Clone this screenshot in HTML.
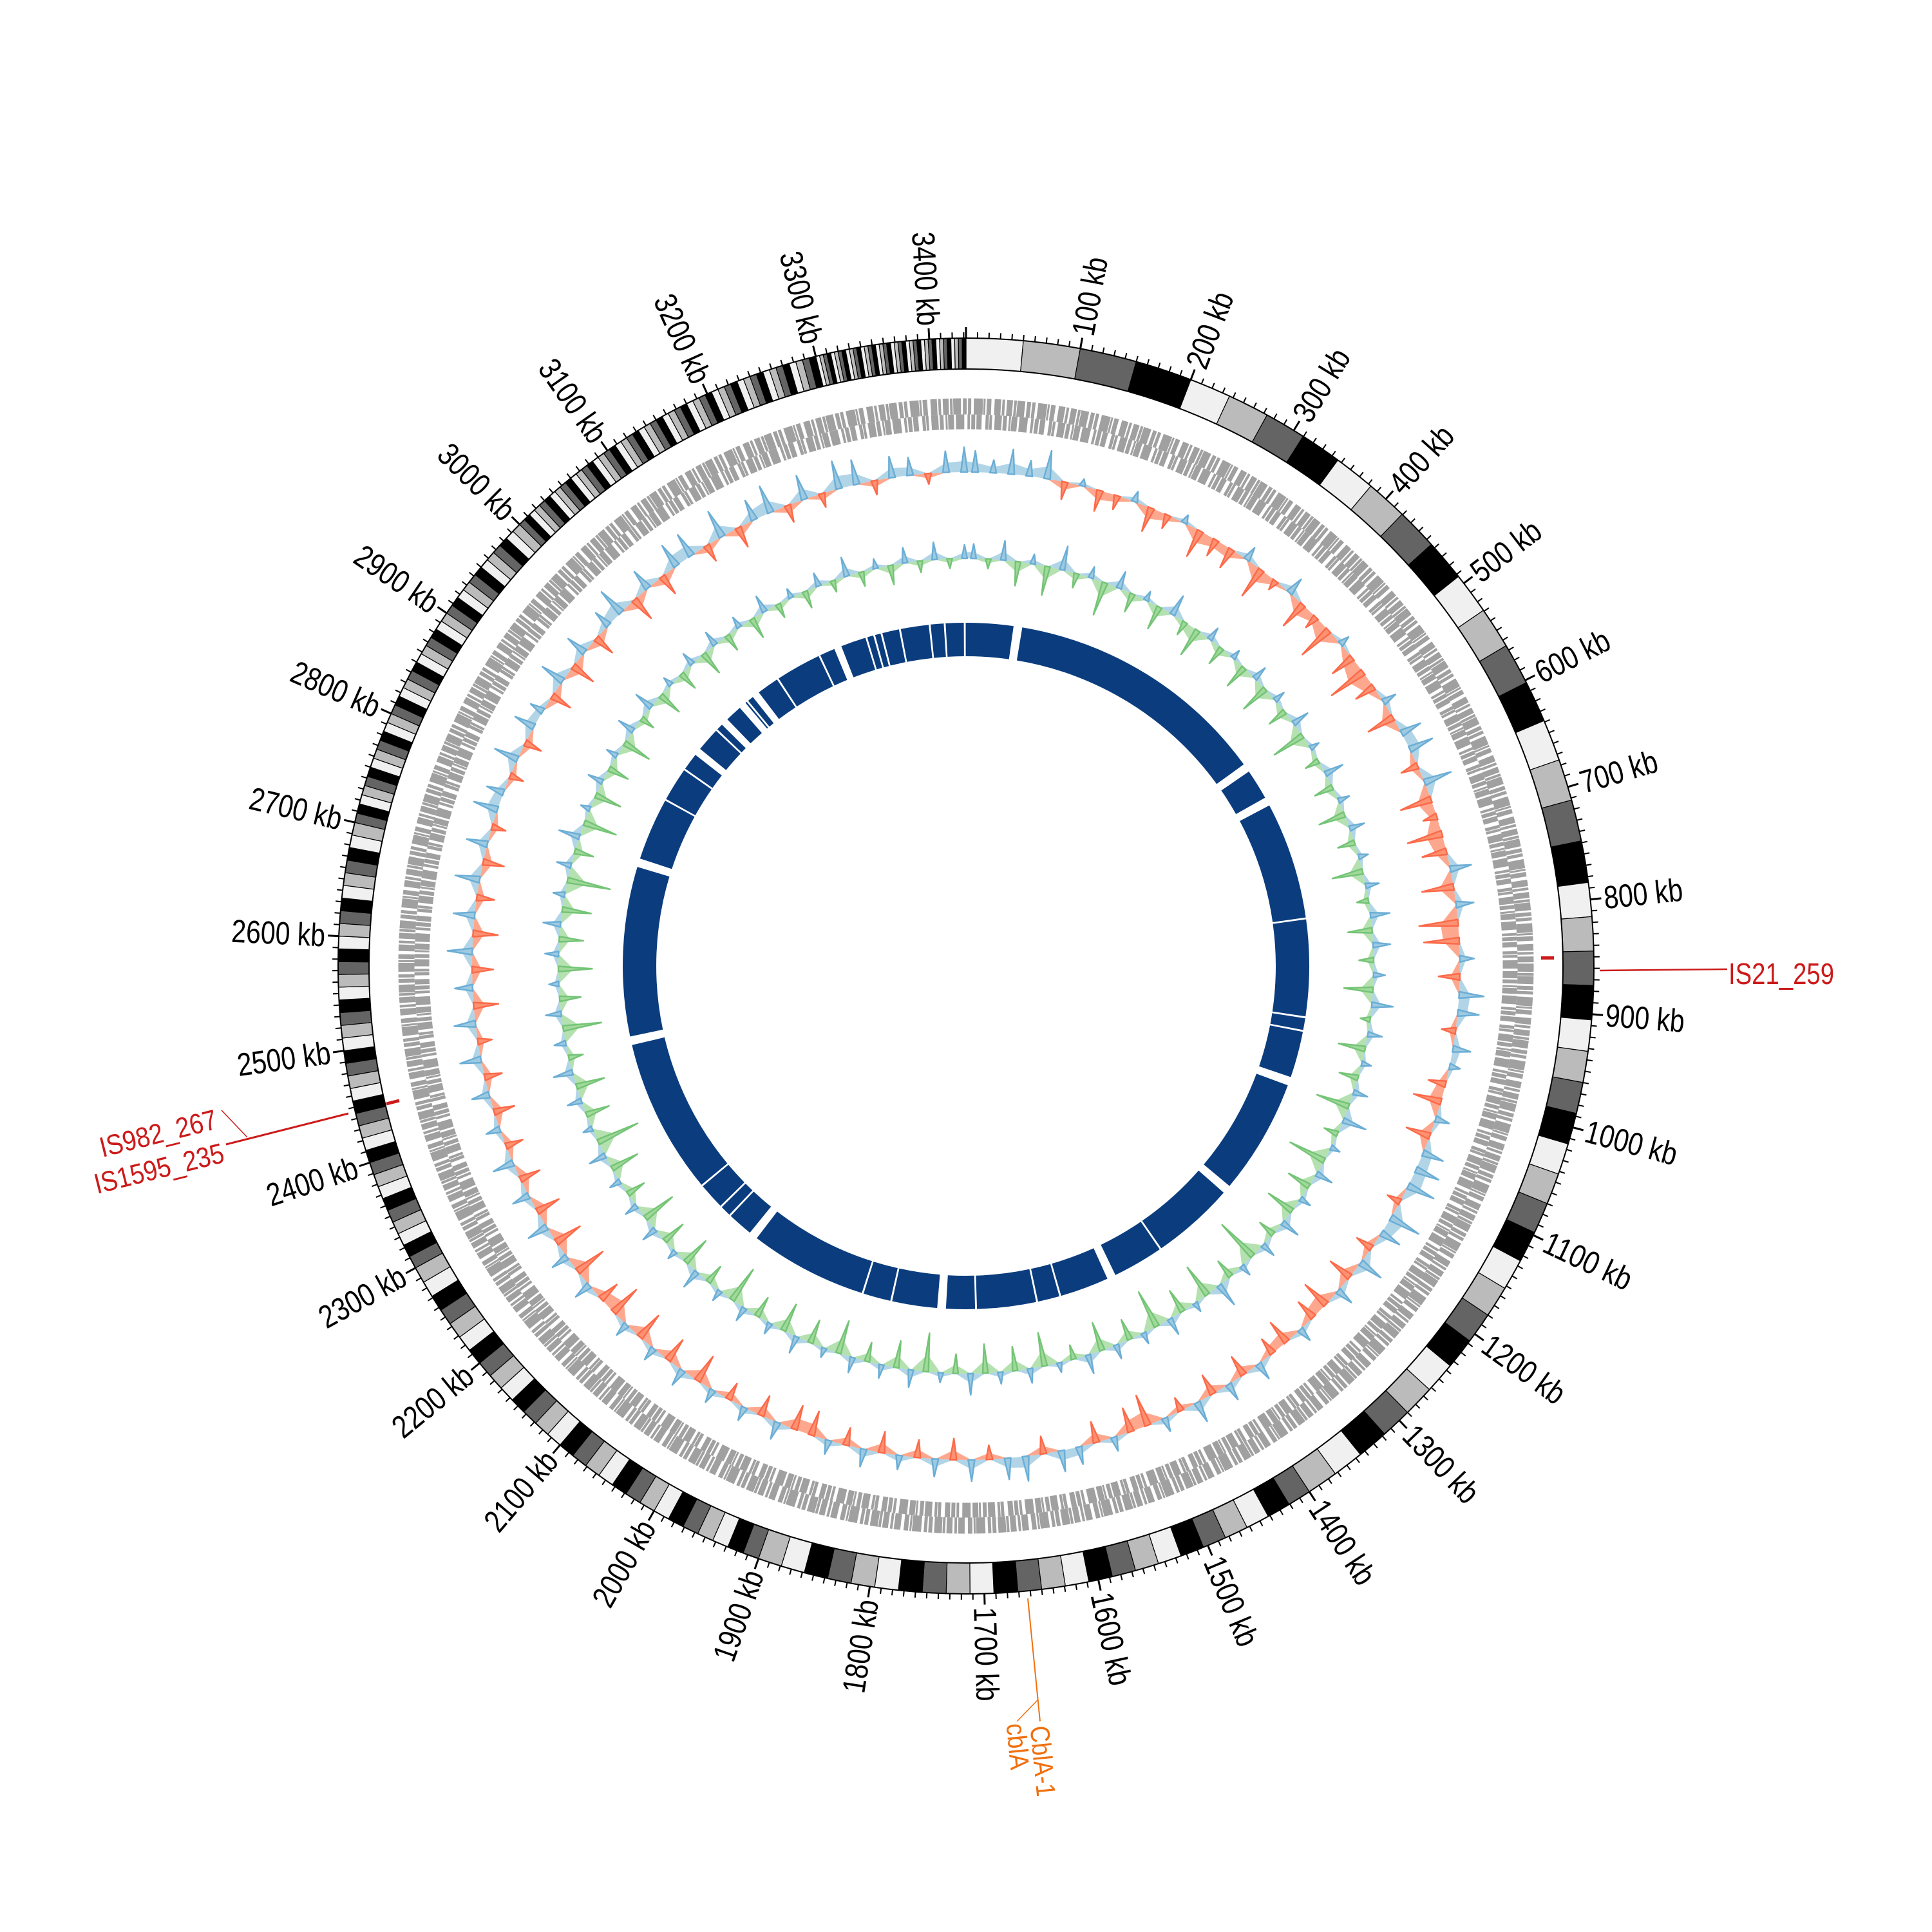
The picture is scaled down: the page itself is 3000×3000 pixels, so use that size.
<!DOCTYPE html>
<html><head><meta charset="utf-8"><title>Circular genome map</title>
<style>html,body{margin:0;padding:0;background:#fff}svg{display:block}</style></head>
<body>
<svg id="chart" xmlns="http://www.w3.org/2000/svg" width="3000" height="3000" viewBox="0 0 3000 3000">
<rect width="3000" height="3000" fill="#fff"/>
<g id="bands"></g>
<g id="ticks"></g>
<g id="ticklabels" font-family="Liberation Sans, sans-serif" font-size="50" fill="#000"></g>
<g id="genes"></g>
<g id="skew"></g>
<g id="gc"></g>
<g id="contigs"></g>
<g id="annot" font-family="Liberation Sans, sans-serif">
  <line x1="2484" y1="1507" x2="2682" y2="1505" stroke="#cc1a1a" stroke-width="2.5"/>
  <rect x="2393" y="1485" width="20" height="5" fill="#cc1a1a"/>
  <text x="2684" y="1528" font-size="46" fill="#cc1a1a" textLength="164" lengthAdjust="spacingAndGlyphs">IS21_259</text>
  <line x1="541" y1="1729" x2="351" y2="1777" stroke="#cc1a1a" stroke-width="3"/>
  <line x1="344" y1="1724" x2="384" y2="1766" stroke="#cc1a1a" stroke-width="1.5"/>
  <line x1="600" y1="1714" x2="620" y2="1709" stroke="#cc1a1a" stroke-width="5"/>
  <text transform="translate(336,1738) rotate(-14)" text-anchor="end" dominant-baseline="central" font-size="44" fill="#cc1a1a" textLength="186" lengthAdjust="spacingAndGlyphs">IS982_267</text>
  <text transform="translate(347,1790) rotate(-14)" text-anchor="end" dominant-baseline="central" font-size="44" fill="#cc1a1a" textLength="206" lengthAdjust="spacingAndGlyphs">IS1595_235</text>
  <line x1="1596" y1="2482" x2="1615" y2="2673" stroke="#f0700f" stroke-width="2"/>
  <line x1="1611" y1="2640" x2="1579" y2="2673" stroke="#f0700f" stroke-width="1.5"/>
  <text transform="translate(1614,2680) rotate(84.4)" dominant-baseline="central" font-size="42" fill="#f0700f" textLength="110" lengthAdjust="spacingAndGlyphs">CblA-1</text>
  <text transform="translate(1577,2676) rotate(84.4)" dominant-baseline="central" font-size="42" fill="#f0700f" textLength="72" lengthAdjust="spacingAndGlyphs">cblA</text>
</g>
</svg>
<script>
// ---- data ----
var genomeKb = 3432;
var bandRegions = [[0,200,4],[200,785,16],[785,905,4],[905,1400,18],[1400,1900,24],[1900,2300,28],[2300,2700,36],[2700,3000,36],[3000,3300,50],[3300,3432,40]];
var bandColors = ["#f0f0f0","#bbbbbb","#646464","#000000"];
var tickLabels = [100,200,300,400,500,600,700,800,900,1000,1100,1200,1300,1400,1500,1600,1700,1800,1900,2000,2100,2200,2300,2400,2500,2600,2700,2800,2900,3000,3100,3200,3300,3400];
var binKb = 20;
var skewValues = [30,18,35,22,40,-25,10,-30,-20,15,-35,-20,12,-40,-25,-30,20,-45,-15,25,-40,-20,-50,15,-35,-55,-30,20,-40,30,35,-25,40,-45,-20,-50,-35,30,-45,25,-55,-50,20,-30,35,30,-20,25,15,-25,-40,20,-35,30,35,40,-20,45,30,-25,35,-35,25,-40,-30,20,-35,-25,25,-30,25,-30,30,-20,20,-45,-35,20,-30,25,30,-25,35,30,-20,30,-30,25,-25,20,-30,25,-25,20,-35,-35,25,-30,20,-25,20,-40,25,-35,20,-40,20,-45,-30,25,-45,25,-40,30,-35,25,-30,30,-25,20,-30,25,-25,30,-20,30,-35,25,-30,35,-35,30,-25,35,-30,30,-20,35,25,-20,35,-25,30,20,-30,35,-35,30,-30,25,40,-35,30,-30,35,35,-25,40,-30,30,40,-25,35,-20,40,35,-20,30,25,-15,30,35];
var gcValues = [15,-10,20,-25,10,-30,25,-15,12,-35,18,-20,10,-25,22,-15,-30,14,-20,10,-25,15,-30,12,-20,18,-35,10,-15,20,-20,12,-28,16,-18,10,-32,14,-12,20,-25,18,-15,12,-30,22,-10,15,-28,10,-20,15,-35,25,-15,10,-40,18,-25,12,-30,20,-18,15,-45,12,-20,25,-35,10,-25,18,-40,12,-22,15,-30,20,-15,10,-35,15,-25,12,-30,22,-20,10,-40,18,-28,14,-20,16,-35,10,-25,18,-30,12,-22,15,-38,12,-20,20,-30,10,-25,16,-35,14,-20,12,-30,18,-45,10,-25,15,-30,20,-15,12,-40,16,-22,10,-35,14,-25,18,-30,12,-45,15,-20,22,-35,10,-28,16,-22,12,-30,18,-15,20,-25,10,-20,14,-25,16,-18,12,-22,18,-15,10,-18,14,-12,20,-15,10,-20,16,-12,18,-10,14];
var contigGapPos = [83,522,585,782,940,962,1045,1245,1387,1477,1564,1602,1700,1755,1836,1883,2081,2130,2150,2195,2454,2741,2850,2907,2942,2988,3006,3045,3055,3072,3115,3191,3223,3271,3284,3296,3326,3374,3398,3430];
var contigGapSize = [14,14,14,3,3,3,14,14,3,14,3,3,3,14,3,3,14,3,3,3,14,14,3,3,12,3,12,12,3,12,3,3,12,3,3,3,3,3,3,3];

// ---- geometry ----
var CX=1500, CY=1500, DEG_PER_KB=360/genomeKb;
var R_OUT=975, R_IN=927;
function ang(kb){return kb*DEG_PER_KB;}
function pt(r,a){var t=a*Math.PI/180;return [CX+r*Math.sin(t), CY-r*Math.cos(t)];}
function f(p){return p[0].toFixed(1)+","+p[1].toFixed(1);}
function sector(r0,r1,a0,a1){
  var large=(a1-a0)>180?1:0;
  var p1=pt(r1,a0),p2=pt(r1,a1),p3=pt(r0,a1),p4=pt(r0,a0);
  return "M"+f(p1)+"A"+r1+","+r1+" 0 "+large+" 1 "+f(p2)+"L"+f(p3)+"A"+r0+","+r0+" 0 "+large+" 0 "+f(p4)+"Z";
}
var NS="http://www.w3.org/2000/svg";
function mk(tag,parent){var e=document.createElementNS(NS,tag);parent.appendChild(e);return e;}

// bands
var gB=document.getElementById("bands"), ci=0;
bandRegions.forEach(function(reg){
  var w=(reg[1]-reg[0])/reg[2];
  for(var i=0;i<reg[2];i++){
    var s=reg[0]+i*w, e=s+w;
    var p=mk("path",gB);
    
    
    p.setAttribute("d",sector(R_IN,R_OUT,ang(s),ang(e)));
    p.setAttribute("fill",bandColors[ci%4]);
    p.setAttribute("stroke","#000");p.setAttribute("stroke-width","1.2");
    ci++;
  }
});
[R_IN,R_OUT].forEach(function(r){
  var c=mk("circle",gB);
  
  
  c.setAttribute("cx",CX);c.setAttribute("cy",CY);c.setAttribute("r",r);
  c.setAttribute("fill","none");c.setAttribute("stroke","#000");c.setAttribute("stroke-width","2");
});

// ticks
var gT=document.getElementById("ticks");
for(var k=0;k<=genomeKb;k+=10){
  var major=(k%100===0);
  var a=ang(k),p0=pt(R_OUT,a),p1=pt(R_OUT+(major?17:9),a);
  var l=mk("line",gT);
  
  
  l.setAttribute("x1",p0[0]);l.setAttribute("y1",p0[1]);l.setAttribute("x2",p1[0]);l.setAttribute("y2",p1[1]);
  l.setAttribute("stroke","#000");l.setAttribute("stroke-width",major?"3":"2");
}
// tick labels
var gL=document.getElementById("ticklabels");
tickLabels.forEach(function(kb){
  var a=ang(kb),p=pt(996,a),s=kb+" kb";
  var w=0;for(var i=0;i<s.length;i++){var ch=s[i];w+=(ch===" ")?0.278:(ch==="k"?0.5:0.556);}
  var t=mk("text",gL);
  
  
  var rot=a<180?a-90:a+90;
  t.setAttribute("transform","translate("+p[0].toFixed(1)+","+p[1].toFixed(1)+") rotate("+rot.toFixed(2)+")");
  t.setAttribute("text-anchor",a<180?"start":"end");
  t.setAttribute("dominant-baseline","central");
  t.setAttribute("textLength",(w*50*0.82).toFixed(1));
  t.setAttribute("lengthAdjust","spacingAndGlyphs");
  t.textContent=s;
});

// gene tracks (texture)
var gG=document.getElementById("genes");
[[869,25,"9 2 4 1 12 3 6 2 5 4 14 1 3 2 7 5 10 2 4 3"],[845,23,"4 4 11 2 6 3 3 1 9 3 13 5 4 2 6 2 8 6 5 1"]].forEach(function(row,i){
  var c=mk("circle",gG);
  
  
  c.setAttribute("cx",CX);c.setAttribute("cy",CY);c.setAttribute("r",row[0]);
  c.setAttribute("fill","none");c.setAttribute("stroke","#a0a0a0");
  c.setAttribute("stroke-width",row[1]);c.setAttribute("stroke-dasharray",row[2]);
});

// value tracks: light area + thin spikes
function track(gid,vals,base,scale,posFill,posStroke,negFill,negStroke,name){
  var g=document.getElementById(gid);
  [1,-1].forEach(function(sign){
    var pts=[],bpts=[];
    for(var i=0;i<vals.length;i++){
      var a=ang(i*binKb+binKb/2);
      var v=sign>0?Math.max(vals[i],0):Math.min(vals[i],0);
      pts.push(f(pt(base+scale*0.45*v,a)));
      bpts.push(f(pt(base,a)));
    }
    pts.push(pts[0]);bpts.push(bpts[0]);
    var p=mk("path",g);
    
    
    p.setAttribute("d","M"+pts.join("L")+"L"+bpts.reverse().join("L")+"Z");
    p.setAttribute("fill",sign>0?posFill:negFill);
    p.setAttribute("fill-opacity","0.8");
  });
  var half=binKb*0.18;
  for(var i=0;i<vals.length;i++){
    var c=i*binKb+binKb/2, v=vals[i], pos=v>=0;
    var tip=pt(base+scale*v,ang(c));
    var b0=pt(base,ang(c-half)), b1=pt(base,ang(c+half));
    var s=mk("path",g);
    
    
    s.setAttribute("d","M"+f(b0)+"L"+f(tip)+"L"+f(b1)+"Z");
    s.setAttribute("fill",pos?posFill:negFill);
    s.setAttribute("stroke",pos?posStroke:negStroke);
    s.setAttribute("stroke-width","2.5");s.setAttribute("stroke-linejoin","round");
  }
}
track("skew",skewValues,767,1.1,"#9ecae1","#6baed6","#fc9272","#fb6a4a","gc-skew");
track("gc",gcValues,633,1.5,"#9ecae1","#6baed6","#a1d99b","#74c476","gc-content");

// contig ring
var gC=document.getElementById("contigs"), start=0;
for(var i=0;i<=contigGapPos.length;i++){
  var end=i<contigGapPos.length?contigGapPos[i]-contigGapSize[i]/2:genomeKb;
  if(end>start){
    var p=mk("path",gC);
    
    
    p.setAttribute("d",sector(481,533,ang(start),ang(end)));
    p.setAttribute("fill","#0b3d7e");
  }
  if(i<contigGapPos.length)start=contigGapPos[i]+contigGapSize[i]/2;
}
</script>
</body></html>
